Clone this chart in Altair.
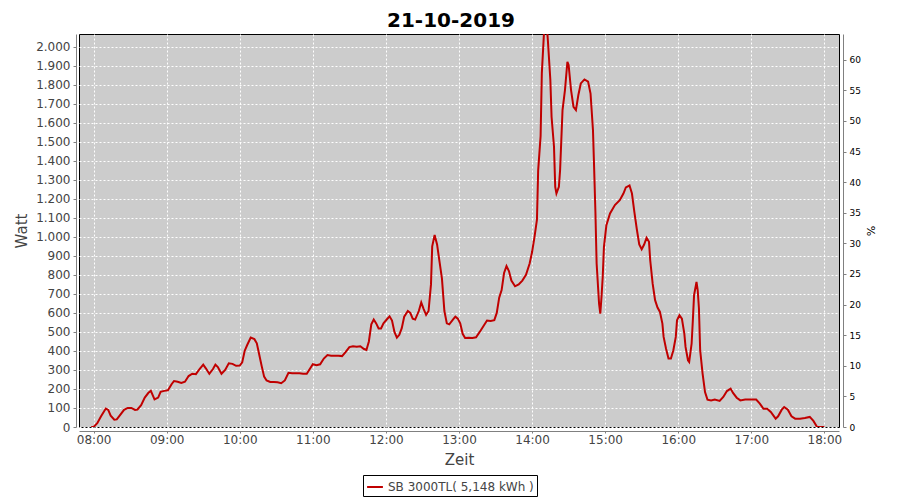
import altair as alt
import pandas as pd

times = [
    "07:58", "08:00", "08:03", "08:06", "08:10", "08:12", "08:14", "08:17", "08:19", "08:22",
    "08:25", "08:28", "08:31", "08:34", "08:36", "08:39", "08:42", "08:45", "08:47", "08:50",
    "08:53", "08:55", "08:58", "09:01", "09:04", "09:06", "09:09", "09:12", "09:15", "09:18",
    "09:21", "09:24", "09:27", "09:30", "09:32", "09:35", "09:38", "09:40", "09:42", "09:45",
    "09:48", "09:51", "09:54", "09:57", "10:00", "10:02", "10:04", "10:06", "10:09", "10:12",
    "10:14", "10:16", "10:18", "10:20", "10:22", "10:25", "10:28", "10:31", "10:34", "10:37",
    "10:40", "10:43", "10:46", "10:49", "10:52", "10:55", "10:58", "11:00", "11:03", "11:06",
    "11:09", "11:12", "11:15", "11:18", "11:21", "11:24", "11:27", "11:30", "11:33", "11:36",
    "11:39", "11:42", "11:44", "11:46", "11:48", "11:50", "11:52", "11:54", "11:56", "11:58",
    "12:01", "12:03", "12:05", "12:07", "12:09", "12:11", "12:13", "12:15", "12:18", "12:20",
    "12:22", "12:24", "12:27", "12:29", "12:31", "12:33", "12:35", "12:37", "12:38", "12:40",
    "12:42", "12:44", "12:46", "12:48", "12:50", "12:52", "12:55", "12:57", "12:59", "13:01",
    "13:03", "13:05", "13:08", "13:11", "13:14", "13:17", "13:20", "13:23", "13:26", "13:29",
    "13:31", "13:33", "13:35", "13:37", "13:39", "13:41", "13:43", "13:46", "13:49", "13:52",
    "13:55", "13:58", "14:00", "14:02", "14:04", "14:05", "14:07", "14:08", "14:10", "14:11",
    "14:12", "14:13", "14:15", "14:16", "14:18", "14:19", "14:20", "14:22", "14:23", "14:25",
    "14:27", "14:29", "14:30", "14:32", "14:34", "14:36", "14:38", "14:40", "14:43", "14:46",
    "14:48", "14:50", "14:51", "14:52", "14:53", "14:55", "14:56", "14:57", "14:58", "14:59",
    "15:01", "15:04", "15:08", "15:12", "15:15", "15:17", "15:20", "15:22", "15:24", "15:26",
    "15:28", "15:30", "15:32", "15:34", "15:36", "15:37", "15:39", "15:41", "15:43", "15:45",
    "15:47", "15:48", "15:50", "15:52", "15:54", "15:56", "15:58", "15:59", "16:01", "16:03",
    "16:05", "16:06", "16:08", "16:09", "16:11", "16:12", "16:13", "16:15", "16:16", "16:17",
    "16:18", "16:20", "16:22", "16:24", "16:27", "16:30", "16:34", "16:37", "16:40", "16:43",
    "16:45", "16:48", "16:51", "16:55", "17:00", "17:04", "17:07", "17:10", "17:13", "17:16",
    "17:20", "17:22", "17:25", "17:27", "17:30", "17:33", "17:36", "17:40", "17:44", "17:48",
    "17:51", "17:54", "18:00",
]

watts = [
    0, 0, 20, 55, 97, 90, 60, 38, 40, 65,
    90, 100, 100, 90, 92, 115, 155, 180, 190, 145,
    155, 185, 190, 193, 225, 242, 238, 232, 238, 268,
    280, 278, 305, 328, 310, 280, 305, 328, 315, 280,
    300, 335, 332, 322, 323, 340, 400, 430, 470, 462,
    440, 380, 320, 265, 245, 237, 237, 235, 230, 245,
    285, 283, 283, 283, 280, 280, 310, 330, 325, 330,
    360, 378, 375, 375, 375, 373, 395, 420, 425, 422,
    425, 410, 405, 450, 540, 565, 545, 518, 518, 545,
    568, 582, 560, 500, 470, 485, 520, 580, 610, 600,
    570, 565, 610, 655, 620, 590, 610, 750, 950, 1010,
    960, 870, 780, 610, 545, 540, 565, 580, 570, 545,
    490, 468, 470, 468, 472, 500, 530, 560, 558, 562,
    600, 680, 720, 810, 846, 820, 770, 740, 750, 770,
    800, 860, 920, 1000, 1090, 1350, 1530, 1860, 2100, 2180,
    2120, 2030, 1825, 1632, 1474, 1263, 1228, 1263, 1351, 1667,
    1772, 1921, 1904, 1772, 1684, 1667, 1746, 1807, 1828, 1816,
    1754, 1561, 1351, 1132, 860, 649, 596, 684, 789, 947,
    1061, 1123, 1167, 1193, 1228, 1260, 1270, 1228, 1130, 1040,
    960, 935, 960, 995, 974, 877, 754, 667, 628, 605,
    544, 474, 412, 360, 360, 404, 474, 561, 588, 570,
    491, 421, 351, 342, 439, 561, 693, 763, 719, 623,
    404, 281, 184, 144, 140, 144, 137, 158, 189, 202,
    179, 154, 140, 144, 144, 144, 123, 96, 96, 79,
    44, 56, 91, 105, 91, 56, 44, 44, 47, 53,
    32, 0, 0,
]

series_name = "SB 3000TL( 5,148 kWh )"
left_ticks = list(range(0, 2001, 100))
right_ticks = list(range(0, 61, 5))
hours = list(range(8, 19))

df = pd.DataFrame({
    "t": ["2019-10-21T" + s + ":00" for s in times],
    "w": watts,
    "s": [series_name] * len(times),
})

GRAY = "#808080"
TXT = "#444444"

line = alt.Chart(df).mark_line(clip=True, strokeWidth=2).encode(
    x=alt.X(
        "t:T",
        scale=alt.Scale(domain=[
            alt.DateTime(year=2019, month=10, date=21, hours=7, minutes=48),
            alt.DateTime(year=2019, month=10, date=21, hours=18, minutes=12),
        ]),
        axis=alt.Axis(
            title="Zeit",
            format="%H:%M",
            values=[alt.DateTime(year=2019, month=10, date=21, hours=h) for h in hours],
            offset=4, tickSize=2, labelPadding=1, titlePadding=7,
            labelFontSize=12, labelColor=TXT, titleFontSize=15,
            titleColor=TXT, titleFontWeight="normal",
            domainColor=GRAY, tickColor=GRAY, labelFlush=False,
        ),
    ),
    y=alt.Y(
        "w:Q",
        scale=alt.Scale(domain=[0, 2067], nice=False, zero=True),
        axis=alt.Axis(
            title="Watt",
            values=left_ticks,
            labelExpr="replace(format(datum.value, ','), ',', '.')",
            offset=3, tickSize=3, labelPadding=3, titlePadding=6,
            labelFontSize=12, labelColor=TXT, titleFontSize=15,
            titleColor=TXT, titleFontWeight="normal",
            domainColor=GRAY, tickColor=GRAY,
        ),
    ),
    color=alt.Color(
        "s:N",
        scale=alt.Scale(range=["#C00000"]),
        legend=alt.Legend(
            title=None, orient="none", legendX=284, legendY=441,
            strokeColor="black", fillColor="white", padding=3,
            cornerRadius=0, symbolType="stroke", symbolStrokeWidth=2,
            symbolSize=250, labelFontSize=12, labelColor=TXT,
        ),
    ),
)

right = alt.Chart(pd.DataFrame({"p": [0.0]})).mark_point(opacity=0).encode(
    y=alt.Y(
        "p:Q",
        scale=alt.Scale(domain=[0, 64.2], nice=False),
        axis=alt.Axis(
            orient="right", title="%", values=right_ticks, grid=False,
            offset=4, tickSize=3, labelPadding=3, titlePadding=4,
            labelFontSize=9, labelColor="black", titleFontSize=11,
            titleColor="black", titleFontWeight="normal",
            domainColor=GRAY, tickColor=GRAY,
        ),
    ),
)

chart = alt.layer(line, right).resolve_scale(y="independent").properties(
    width=760,
    height=393,
    autosize=alt.AutoSizeParams(type="none"),
    padding={"left": 71, "top": 26, "right": 53, "bottom": 70},
    title=alt.TitleParams(
        "21-10-2019", fontSize=20, fontWeight="bold", color="black",
        anchor="middle", offset=3, dx=-8,
    ),
).configure(
    font="DejaVu Sans",
).configure_view(
    fill="#CCCCCC", stroke="black", strokeWidth=1,
).configure_axis(
    gridColor="white", gridDash=[2, 2], gridOpacity=1, gridWidth=1,
)

chart.save("out.html", embed_options={"renderer": "svg", "actions": False})
